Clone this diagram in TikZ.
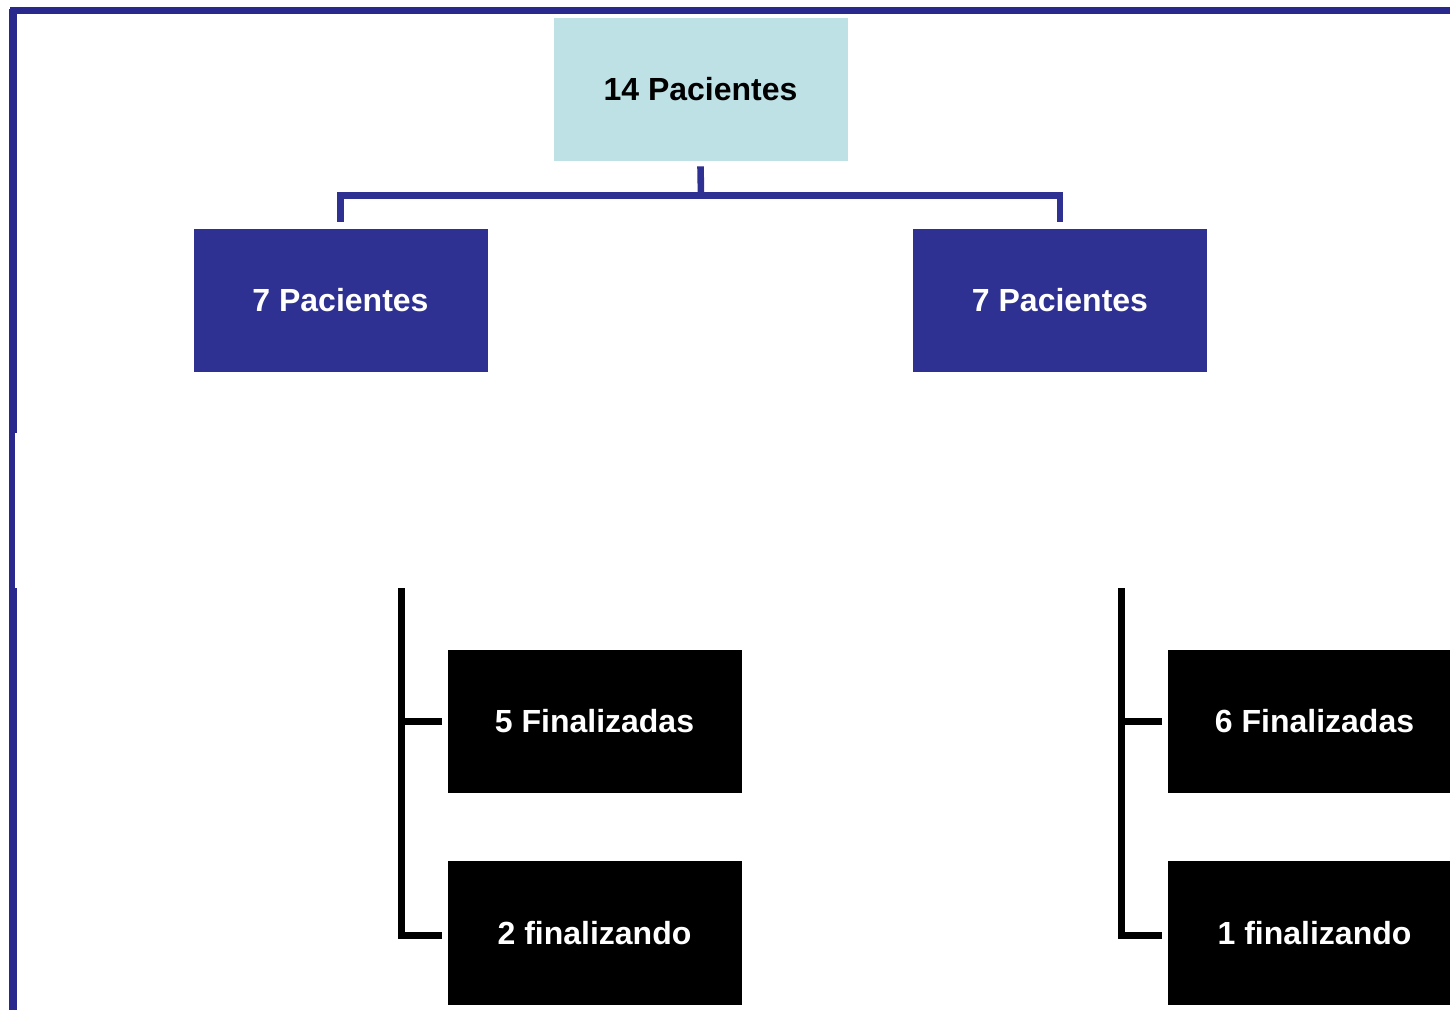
\documentclass[tikz,border=0pt]{standalone}
\usepackage{fontspec}
\setmainfont{Liberation Sans}
\usetikzlibrary{positioning}
\definecolor{frameblue}{HTML}{29288C}
\definecolor{boxblue}{HTML}{2E3092}
\definecolor{paleblue}{HTML}{BEE1E5}
\tikzset{
  box/.style={rectangle, inner sep=0pt, minimum width=147pt, minimum height=71.5pt,
    font=\fontsize{16}{19}\selectfont\bfseries},
  rootbox/.style={box, fill=paleblue, text=black},
  groupbox/.style={box, fill=boxblue, text=white},
  resultbox/.style={box, fill=black, text=white},
  bluelink/.style={draw=boxblue, line width=3.3pt},
  blacklink/.style={draw=black, line width=3.5pt},
}
\begin{document}
\begin{tikzpicture}[x=0.5pt, y=-0.5pt]
  \useasboundingbox (0,0) rectangle (1450,1010);
  \clip (0,0) rectangle (1450,1010);

  % outer frame (top and left edges)
  \fill[frameblue] (10,7) rectangle (1450,14);
  \fill[frameblue] (9,9) rectangle (17,433);
  \fill[frameblue] (9,433) rectangle (15,588);
  \fill[frameblue] (9,588) rectangle (17,1010);

  % boxes
  \node[rootbox]   (root) at (700.5,89.5) {14 Pacientes};
  \node[groupbox]  (ga)   at (340.5,300.5) {7 Pacientes};
  \node[groupbox]  (gb)   at (1060,300.5)  {7 Pacientes};
  \node[resultbox] (a1)   at (594.5,721.5) {5 Finalizadas};
  \node[resultbox, minimum height=72pt] (a2) at (594.5,933) {2 finalizando};
  \node[resultbox] (b1)   at (1314.5,721.5) {6 Finalizadas};
  \node[resultbox, minimum height=72pt] (b2) at (1314.5,933) {1 finalizando};

  % tree connectors
  \coordinate (hub) at (701,195.5);
  \draw[bluelink] ([yshift=-2.5pt]root.south) -- (hub);
  \draw[bluelink] ([yshift=3.5pt]ga.north) |- (hub) -| ([yshift=3.5pt]gb.north);

  \coordinate (ta) at (401.5,588);
  \coordinate (tb) at (1121,588);
  \draw[blacklink] (ta) |- ([xshift=-2.5pt,yshift=-1pt]a2.west);
  \draw[blacklink] (ta |- a1.west) -- ([xshift=-2.5pt]a1.west);
  \draw[blacklink] (tb) |- ([xshift=-2.5pt,yshift=-1pt]b2.west);
  \draw[blacklink] (tb |- b1.west) -- ([xshift=-2.5pt]b1.west);
\end{tikzpicture}
\end{document}
